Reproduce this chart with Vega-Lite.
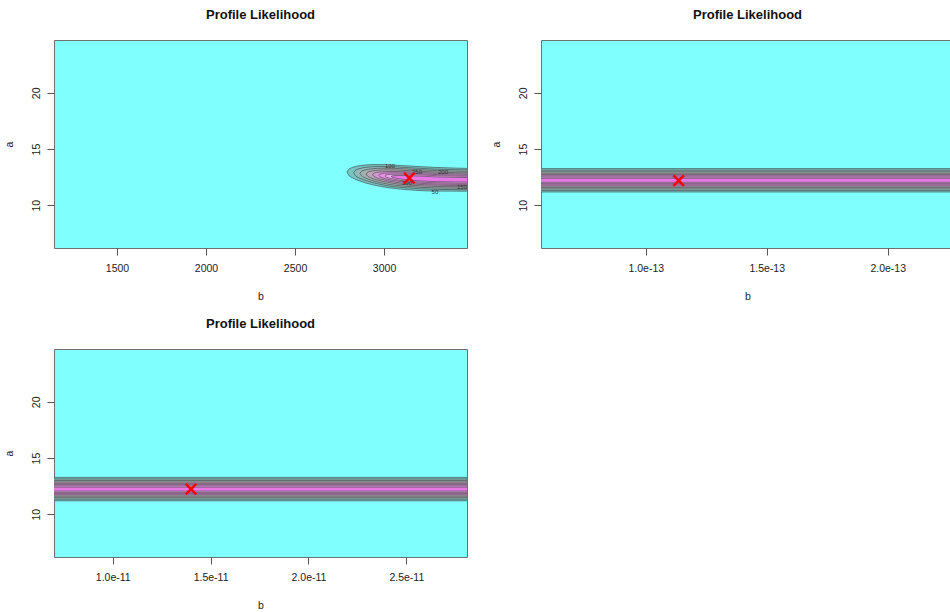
{
  "$schema": "https://vega.github.io/schema/vega-lite/v6.json",
  "background": "white",
  "padding": {"left": 3, "top": 8, "right": 0, "bottom": 0},
  "config": {
    "font": "Liberation Sans",
    "view": {"stroke": "#707070", "strokeWidth": 1, "fill": "#80ffff"},
    "axis": {"domain": false, "grid": false, "tickColor": "#555555", "tickSize": 7, "labelFont": "Liberation Sans", "labelFontSize": 10.5, "labelColor": "#222222", "titleFont": "Liberation Sans", "titleFontSize": 10.5, "titleFontWeight": "normal", "titleColor": "#222222"},
    "axisX": {"labelPadding": 8, "titlePadding": 18},
    "axisY": {"labelAngle": -90, "labelPadding": 6, "titlePadding": 17},
    "title": {"font": "Liberation Sans", "fontSize": 13, "fontWeight": "bold", "color": "#111111", "offset": 18}
  },
  "datasets": {
    "p1": [
      {"lvl":0,"b":2792,"lo":12.95,"hi":12.95},{"lvl":0,"b":2801,"lo":12.68,"hi":13.19},{"lvl":0,"b":2822,"lo":12.45,"hi":13.36},{"lvl":0,"b":2867,"lo":12.14,"hi":13.53},{"lvl":0,"b":2942,"lo":11.80,"hi":13.62},{"lvl":0,"b":3017,"lo":11.58,"hi":13.61},{"lvl":0,"b":3092,"lo":11.44,"hi":13.54},{"lvl":0,"b":3300,"lo":11.26,"hi":13.36},{"lvl":0,"b":3500,"lo":11.25,"hi":13.27},
      {"lvl":1,"b":2830,"lo":12.89,"hi":12.89},{"lvl":1,"b":2838,"lo":12.66,"hi":13.10},{"lvl":1,"b":2858,"lo":12.45,"hi":13.24},{"lvl":1,"b":2900,"lo":12.19,"hi":13.38},{"lvl":1,"b":2970,"lo":11.89,"hi":13.45},{"lvl":1,"b":3040,"lo":11.69,"hi":13.44},{"lvl":1,"b":3110,"lo":11.57,"hi":13.37},{"lvl":1,"b":3300,"lo":11.41,"hi":13.21},{"lvl":1,"b":3500,"lo":11.38,"hi":13.14},
      {"lvl":2,"b":2865,"lo":12.84,"hi":12.84},{"lvl":2,"b":2873,"lo":12.64,"hi":13.01},{"lvl":2,"b":2891,"lo":12.46,"hi":13.13},{"lvl":2,"b":2930,"lo":12.22,"hi":13.24},{"lvl":2,"b":2995,"lo":11.96,"hi":13.30},{"lvl":2,"b":3060,"lo":11.79,"hi":13.28},{"lvl":2,"b":3125,"lo":11.69,"hi":13.23},{"lvl":2,"b":3300,"lo":11.54,"hi":13.08},{"lvl":2,"b":3500,"lo":11.51,"hi":13.01},
      {"lvl":3,"b":2900,"lo":12.78,"hi":12.78},{"lvl":3,"b":2907,"lo":12.61,"hi":12.93},{"lvl":3,"b":2924,"lo":12.46,"hi":13.02},{"lvl":3,"b":2960,"lo":12.26,"hi":13.11},{"lvl":3,"b":3020,"lo":12.04,"hi":13.15},{"lvl":3,"b":3080,"lo":11.89,"hi":13.13},{"lvl":3,"b":3140,"lo":11.80,"hi":13.08},{"lvl":3,"b":3300,"lo":11.67,"hi":12.95},{"lvl":3,"b":3500,"lo":11.64,"hi":12.88},
      {"lvl":4,"b":2935,"lo":12.72,"hi":12.72},{"lvl":4,"b":2942,"lo":12.59,"hi":12.84},{"lvl":4,"b":2957,"lo":12.46,"hi":12.92},{"lvl":4,"b":2990,"lo":12.29,"hi":12.98},{"lvl":4,"b":3045,"lo":12.10,"hi":13.01},{"lvl":4,"b":3100,"lo":11.97,"hi":12.99},{"lvl":4,"b":3155,"lo":11.90,"hi":12.95},{"lvl":4,"b":3300,"lo":11.79,"hi":12.84},{"lvl":4,"b":3500,"lo":11.75,"hi":12.77},
      {"lvl":5,"b":2970,"lo":12.67,"hi":12.67},{"lvl":5,"b":2976,"lo":12.56,"hi":12.76},{"lvl":5,"b":2990,"lo":12.45,"hi":12.82},{"lvl":5,"b":3020,"lo":12.31,"hi":12.87},{"lvl":5,"b":3070,"lo":12.16,"hi":12.89},{"lvl":5,"b":3120,"lo":12.05,"hi":12.87},{"lvl":5,"b":3170,"lo":11.99,"hi":12.83},{"lvl":5,"b":3300,"lo":11.89,"hi":12.73},{"lvl":5,"b":3500,"lo":11.85,"hi":12.67},
      {"lvl":6,"b":3005,"lo":12.61,"hi":12.61},{"lvl":6,"b":3010,"lo":12.53,"hi":12.68},{"lvl":6,"b":3023,"lo":12.45,"hi":12.73},{"lvl":6,"b":3050,"lo":12.34,"hi":12.76},{"lvl":6,"b":3095,"lo":12.21,"hi":12.76},{"lvl":6,"b":3140,"lo":12.14,"hi":12.75},{"lvl":6,"b":3185,"lo":12.08,"hi":12.71},{"lvl":6,"b":3300,"lo":12.00,"hi":12.63},{"lvl":6,"b":3500,"lo":11.95,"hi":12.57},
      {"lvl":7,"b":3040,"lo":12.56,"hi":12.56},{"lvl":7,"b":3045,"lo":12.51,"hi":12.61},{"lvl":7,"b":3056,"lo":12.45,"hi":12.63},{"lvl":7,"b":3080,"lo":12.37,"hi":12.65},{"lvl":7,"b":3120,"lo":12.28,"hi":12.64},{"lvl":7,"b":3160,"lo":12.22,"hi":12.62},{"lvl":7,"b":3200,"lo":12.17,"hi":12.59},{"lvl":7,"b":3300,"lo":12.10,"hi":12.52},{"lvl":7,"b":3500,"lo":12.06,"hi":12.46}
    ],
    "p1lab": [
      {"b":3033,"a":13.48,"t":"100"},{"b":3185,"a":12.95,"t":"250"},{"b":3331,"a":12.95,"t":"200"},{"b":3129,"a":11.96,"t":"300"},{"b":3286,"a":11.16,"t":"50"},{"b":3438,"a":11.6,"t":"150"}
    ],
    "p2": [
      {"lvl":0,"b1":0,"b2":3e-13,"lo":11.18,"hi":13.26},{"lvl":1,"b1":0,"b2":3e-13,"lo":11.32,"hi":13.12},{"lvl":2,"b1":0,"b2":3e-13,"lo":11.46,"hi":12.98},{"lvl":3,"b1":0,"b2":3e-13,"lo":11.59,"hi":12.85},{"lvl":4,"b1":0,"b2":3e-13,"lo":11.71,"hi":12.73},{"lvl":5,"b1":0,"b2":3e-13,"lo":11.82,"hi":12.62},{"lvl":6,"b1":0,"b2":3e-13,"lo":11.93,"hi":12.51},{"lvl":7,"b1":0,"b2":3e-13,"lo":12.04,"hi":12.40}
    ],
    "p3": [
      {"lvl":0,"b1":0,"b2":4e-11,"lo":11.20,"hi":13.28},{"lvl":1,"b1":0,"b2":4e-11,"lo":11.34,"hi":13.14},{"lvl":2,"b1":0,"b2":4e-11,"lo":11.48,"hi":13.00},{"lvl":3,"b1":0,"b2":4e-11,"lo":11.61,"hi":12.87},{"lvl":4,"b1":0,"b2":4e-11,"lo":11.73,"hi":12.75},{"lvl":5,"b1":0,"b2":4e-11,"lo":11.84,"hi":12.64},{"lvl":6,"b1":0,"b2":4e-11,"lo":11.95,"hi":12.53},{"lvl":7,"b1":0,"b2":4e-11,"lo":12.06,"hi":12.42}
    ],
    "m1": [{"b":3142,"a":12.41}],
    "m2": [{"b":1.136e-13,"a":12.2}],
    "m3": [{"b":1.40e-11,"a":12.23}]
  },
  "columns": 2,
  "spacing": {"column": 22, "row": 14},
  "concat": [
    {
      "title": "Profile Likelihood",
      "width": 413, "height": 208,
      "layer": [
        {
          "data": {"name": "p1"},
          "mark": {"type": "area", "clip": true, "interpolate": "monotone", "stroke": "#3c3c3c", "strokeWidth": 0.6},
          "encoding": {
            "x": {"field": "b", "type": "quantitative", "title": "b", "scale": {"domain": [1146, 3466], "nice": false, "zero": false}, "axis": {"values": [1500, 2000, 2500, 3000], "format": "d"}},
            "y": {"field": "lo", "type": "quantitative", "title": "a", "stack": null, "scale": {"domain": [6.2, 24.7], "nice": false, "zero": false}, "axis": {"values": [10, 15, 20]}},
            "y2": {"field": "hi"},
            "color": {"field": "lvl", "type": "ordinal", "legend": null, "scale": {"domain": [0,1,2,3,4,5,6,7], "range": ["#78c4c4","#8fbaba","#a4b0b0","#bca6bc","#d498d4","#e690e6","#f0a8f0","#e878e8"]}}
          }
        },
        {
          "data": {"name": "p1lab"},
          "mark": {"type": "text", "fontSize": 6, "color": "#333333", "clip": true},
          "encoding": {
            "x": {"field": "b", "type": "quantitative"},
            "y": {"field": "a", "type": "quantitative"},
            "text": {"field": "t"}
          }
        },
        {
          "data": {"name": "m1"},
          "mark": {"type": "point", "shape": "M-1,-1L1,1M-1,1L1,-1", "size": 110, "stroke": "#ff0000", "strokeWidth": 2.5, "filled": false, "opacity": 1},
          "encoding": {
            "x": {"field": "b", "type": "quantitative"},
            "y": {"field": "a", "type": "quantitative"}
          }
        }
      ]
    },
    {
      "title": "Profile Likelihood",
      "width": 413, "height": 208,
      "layer": [
        {
          "data": {"name": "p2"},
          "mark": {"type": "rect", "clip": true, "stroke": "#3c3c3c", "strokeWidth": 0.6},
          "encoding": {
            "x": {"field": "b1", "type": "quantitative", "title": "b", "scale": {"domain": [0.567e-13, 2.274e-13], "nice": false, "zero": false}, "axis": {"values": [1.0e-13, 1.5e-13, 2.0e-13], "format": ".1e"}},
            "x2": {"field": "b2"},
            "y": {"field": "lo", "type": "quantitative", "title": "a", "scale": {"domain": [6.2, 24.7], "nice": false, "zero": false}, "axis": {"values": [10, 15, 20]}},
            "y2": {"field": "hi"},
            "color": {"field": "lvl", "type": "ordinal", "legend": null, "scale": {"domain": [0,1,2,3,4,5,6,7], "range": ["#78b4b4","#8fb0b0","#a4a8a8","#bca6bc","#d498d4","#e690e6","#f0a8f0","#e878e8"]}}
          }
        },
        {
          "data": {"name": "m2"},
          "mark": {"type": "point", "shape": "M-1,-1L1,1M-1,1L1,-1", "size": 110, "stroke": "#ff0000", "strokeWidth": 2.5, "filled": false, "opacity": 1},
          "encoding": {
            "x": {"field": "b", "type": "quantitative"},
            "y": {"field": "a", "type": "quantitative"}
          }
        }
      ]
    },
    {
      "title": "Profile Likelihood",
      "width": 413, "height": 208,
      "layer": [
        {
          "data": {"name": "p3"},
          "mark": {"type": "rect", "clip": true, "stroke": "#3c3c3c", "strokeWidth": 0.6},
          "encoding": {
            "x": {"field": "b1", "type": "quantitative", "title": "b", "scale": {"domain": [0.70e-11, 2.81e-11], "nice": false, "zero": false}, "axis": {"values": [1.0e-11, 1.5e-11, 2.0e-11, 2.5e-11], "format": ".1e"}},
            "x2": {"field": "b2"},
            "y": {"field": "lo", "type": "quantitative", "title": "a", "scale": {"domain": [6.2, 24.7], "nice": false, "zero": false}, "axis": {"values": [10, 15, 20]}},
            "y2": {"field": "hi"},
            "color": {"field": "lvl", "type": "ordinal", "legend": null, "scale": {"domain": [0,1,2,3,4,5,6,7], "range": ["#78b4b4","#8fb0b0","#a4a8a8","#bca6bc","#d498d4","#e690e6","#f0a8f0","#e878e8"]}}
          }
        },
        {
          "data": {"name": "m3"},
          "mark": {"type": "point", "shape": "M-1,-1L1,1M-1,1L1,-1", "size": 110, "stroke": "#ff0000", "strokeWidth": 2.5, "filled": false, "opacity": 1},
          "encoding": {
            "x": {"field": "b", "type": "quantitative"},
            "y": {"field": "a", "type": "quantitative"}
          }
        }
      ]
    }
  ]
}
